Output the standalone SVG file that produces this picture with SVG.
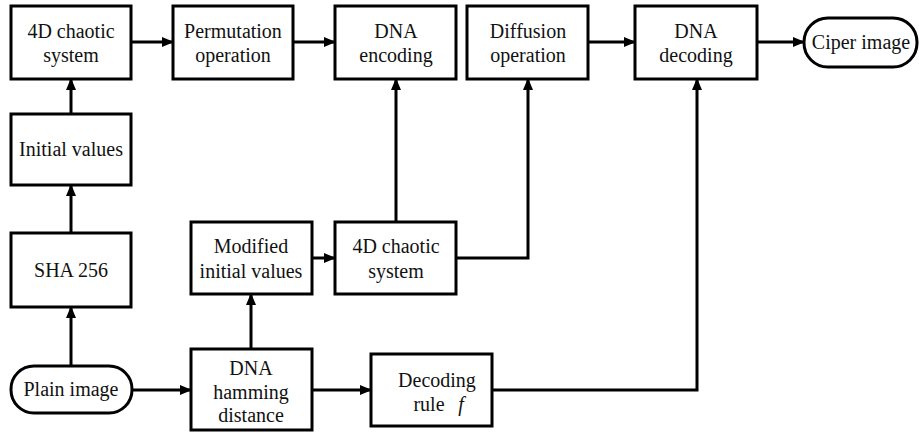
<svg xmlns="http://www.w3.org/2000/svg" width="919" height="433" viewBox="0 0 919 433">
  <style>
    .box { fill: #fff; stroke: #000; stroke-width: 3; }
    .lbl { font-family: 'Liberation Serif', 'Times New Roman', serif; font-size: 20px; fill: #111; text-anchor: middle; }
    .wire { fill: none; stroke: #000; stroke-width: 3; }
    .arr { marker-end: url(#arrow); }
  </style>
  <defs>
    <marker id="arrow" markerWidth="12" markerHeight="10" refX="11" refY="5" orient="auto" markerUnits="userSpaceOnUse">
      <path d="M0,0 L12,5 L0,10 Z" fill="#000"/>
    </marker>
  </defs>
  <rect width="919" height="433" fill="#fff"/>

  <g id="connectors">
    <path class="wire arr" d="M131,42 H173"/>
    <path class="wire arr" d="M293,42 H335"/>
    <path class="wire arr" d="M588,42 H635"/>
    <path class="wire arr" d="M757,42 H804"/>
    <path class="wire arr" d="M71,114 V79"/>
    <path class="wire arr" d="M71,233 V185"/>
    <path class="wire arr" d="M71,366 V307"/>
    <path class="wire arr" d="M132,390 H191"/>
    <path class="wire arr" d="M251,349 V294"/>
    <path class="wire arr" d="M312,258 H335"/>
    <path class="wire arr" d="M396,222 V79"/>
    <path class="wire arr" d="M456,258 H528 V79"/>
    <path class="wire arr" d="M312,390 H371"/>
    <path class="wire arr" d="M492,390 H697 V79"/>
  </g>

  <g id="chaotic-system-top">
    <rect class="box" x="11" y="6" width="120" height="73"/>
    <text class="lbl" x="71" y="38">4D chaotic</text>
    <text class="lbl" x="71" y="62">system</text>
  </g>
  <g id="permutation">
    <rect class="box" x="173" y="6" width="120" height="73"/>
    <text class="lbl" x="233" y="38">Permutation</text>
    <text class="lbl" x="233" y="62">operation</text>
  </g>
  <g id="dna-encoding">
    <rect class="box" x="335" y="6" width="121" height="73"/>
    <text class="lbl" x="396" y="38">DNA</text>
    <text class="lbl" x="396" y="62">encoding</text>
  </g>
  <g id="diffusion">
    <rect class="box" x="467" y="6" width="121" height="73"/>
    <text class="lbl" x="528" y="38">Diffusion</text>
    <text class="lbl" x="528" y="62">operation</text>
  </g>
  <g id="dna-decoding">
    <rect class="box" x="635" y="6" width="122" height="73"/>
    <text class="lbl" x="696" y="38">DNA</text>
    <text class="lbl" x="696" y="62">decoding</text>
  </g>
  <g id="ciper-image">
    <rect class="box" x="804" y="18" width="113" height="49" rx="24" ry="24"/>
    <text class="lbl" x="861" y="49">Ciper image</text>
  </g>
  <g id="initial-values">
    <rect class="box" x="11" y="114" width="120" height="71"/>
    <text class="lbl" x="71" y="156">Initial values</text>
  </g>
  <g id="sha256">
    <rect class="box" x="11" y="233" width="120" height="74"/>
    <text class="lbl" x="71" y="277">SHA 256</text>
  </g>
  <g id="plain-image">
    <rect class="box" x="11" y="366" width="121" height="47" rx="23" ry="23"/>
    <text class="lbl" x="71" y="396">Plain image</text>
  </g>
  <g id="modified-initial-values">
    <rect class="box" x="191" y="222" width="121" height="72"/>
    <text class="lbl" x="251" y="253">Modified</text>
    <text class="lbl" x="251" y="278">initial values</text>
  </g>
  <g id="chaotic-system-mid">
    <rect class="box" x="335" y="222" width="121" height="72"/>
    <text class="lbl" x="396" y="253">4D chaotic</text>
    <text class="lbl" x="396" y="278">system</text>
  </g>
  <g id="dna-hamming-distance">
    <rect class="box" x="191" y="349" width="121" height="81"/>
    <text class="lbl" x="251" y="375">DNA</text>
    <text class="lbl" x="251" y="399">hamming</text>
    <text class="lbl" x="251" y="422">distance</text>
  </g>
  <g id="decoding-rule">
    <rect class="box" x="371" y="354" width="121" height="72"/>
    <text class="lbl" x="437" y="387">Decoding</text>
    <text class="lbl" x="429" y="411">rule</text>
    <text class="lbl" x="461" y="411" font-style="italic">f</text>
  </g>
</svg>
